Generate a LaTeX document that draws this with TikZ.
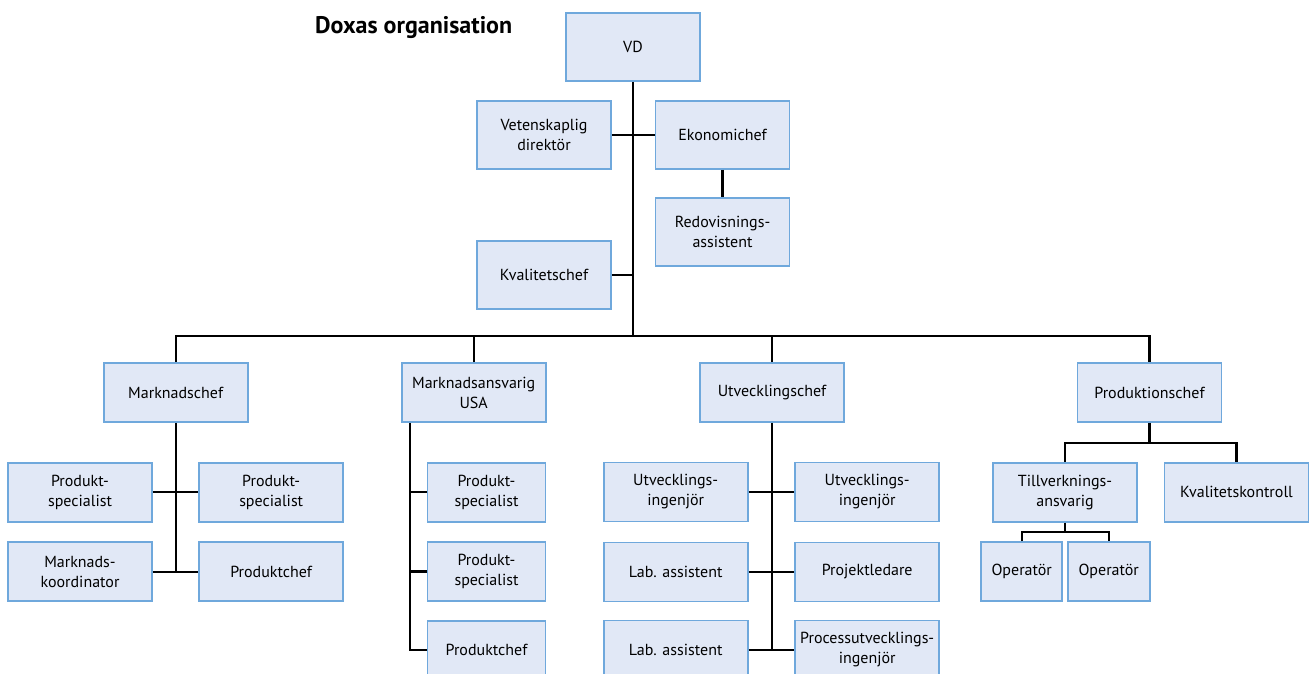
\documentclass[tikz,border=0pt]{standalone}
\usepackage{fontspec}
\setmainfont{PT Sans}
\definecolor{boxfill}{RGB}{225,232,246}
\definecolor{boxline}{RGB}{111,168,220}
\begin{document}
\begin{tikzpicture}[x=1pt,y=-1pt,
  box/.style={draw=boxline,fill=boxfill,line width=1.8pt,inner sep=0pt,align=center,
    font=\fontsize{16}{20}\selectfont,minimum width=144pt,minimum height=59pt},
  topbox/.style={box,minimum width=134pt,minimum height=68pt},
  link/.style={line width=2.1pt,black}]
\useasboundingbox (0,0) rectangle (1311,673);
\clip (0,0) rectangle (1311,673);
\node[anchor=base west,inner sep=0pt,font=\fontsize{24}{28}\selectfont\bfseries] (title) at (315,33) {Doxas organisation};
% top level
\node[topbox] (vd) at (633,47) {VD};
\node[topbox] (vet) at (544,135) {Vetenskaplig\\direktör};
\node[topbox] (eko) at (722.5,135) {Ekonomichef};
\node[topbox] (red) at (722.5,232) {Redovisnings-\\assistent};
\node[topbox] (kval) at (544,275) {Kvalitetschef};
% second level
\node[box] (mc) at (175.7,392.5) {Marknadschef};
\node[box] (ma) at (473.7,392.5) {Marknadsansvarig\\USA};
\node[box] (uc) at (772,392.5) {Utvecklingschef};
\node[box] (pc) at (1149.5,392.5) {Produktionschef};
% Marknadschef
\node[box] (ps1) at (80,492.3) {Produkt-\\specialist};
\node[box] (ps2) at (271.2,492.3) {Produkt-\\specialist};
\node[box] (mk) at (80,571.7) {Marknads-\\koordinator};
\node[box] (pch1) at (271.2,571.7) {Produktchef};
% Marknadsansvarig USA
\node[box,minimum width=118pt] (ps3) at (486.5,492.3) {Produkt-\\specialist};
\node[box,minimum width=118pt] (ps4) at (486.5,571.5) {Produkt-\\specialist};
\node[box,minimum width=118pt] (pch2) at (486.5,650.3) {Produktchef};
% Utvecklingschef
\node[box] (ui1) at (675.7,492) {Utvecklings-\\ingenjör};
\node[box] (ui2) at (867.2,492) {Utvecklings-\\ingenjör};
\node[box] (lab1) at (675.7,572) {Lab. assistent};
\node[box] (proj) at (867.2,572) {Projektledare};
\node[box] (lab2) at (675.7,650) {Lab. assistent};
\node[box] (proc) at (867.2,650) {Processutvecklings-\\ingenjör};
% Produktionschef
\node[box] (till) at (1065,492.2) {Tillverknings-\\ansvarig};
\node[box] (kk) at (1236.5,492.2) {Kvalitetskontroll};
\node[box,minimum width=81pt] (op1) at (1021.7,571.4) {Operatör};
\node[box,minimum width=82pt] (op2) at (1108.7,571.4) {Operatör};
% connectors
\coordinate (bus) at (633,336);
\draw[link] (vd.south) -- (bus);
\draw[link] (vet.east) -- (eko.west);
\draw[link] (eko.south) -- (red.north);
\draw[link] (kval.east) -- (kval.east -| vd.south);
\draw[link] (mc.north) |- (pc.north |- bus) -- (pc.north);
\draw[link] (ma.north) -- (ma.north |- bus);
\draw[link] (uc.north) -- (uc.north |- bus);
% Marknadschef
\draw[link] (mc.south) -- (mc.south |- mk.east);
\draw[link] (ps1.east) -- (ps2.west);
\draw[link] (mk.east) -- (pch1.west);
% Marknadsansvarig
\coordinate (mal) at ([xshift=9.3pt]ma.south west);
\draw[link] (mal) |- (pch2.west);
\draw[link] (ps3.west) -- (ps3.west -| mal);
\draw[link] (ps4.west) -- (ps4.west -| mal);
% Utvecklingschef
\draw[link] (uc.south) -- (uc.south |- lab2.east);
\draw[link] (ui1.east) -- (ui2.west);
\draw[link] (lab1.east) -- (proj.west);
\draw[link] (lab2.east) -- (proc.west);
% Produktionschef
\coordinate (pbr) at (1149.5,442.7);
\draw[link] (pc.south) -- (pbr);
\draw[link] (till.north) |- (pbr) -| (kk.north);
\coordinate (tbr) at (1065,532);
\draw[link] (till.south) -- (tbr);
\draw[link] (op1.north) |- (tbr) -| (op2.north);
\end{tikzpicture}
\end{document}
